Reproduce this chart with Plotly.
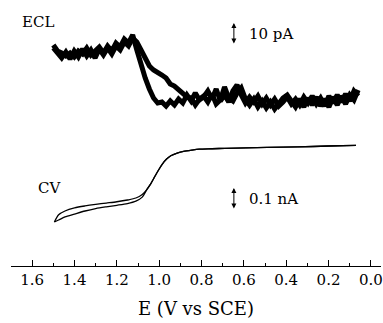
import numpy as np
import plotly.graph_objects as go

# ---------------- data ----------------
# ECL potential sweep (V vs SCE), uniformly sampled from 1.50 V to 0.06 V
ecl_E = np.linspace(1.50, 0.06, 74)
# ECL intensity (a.u.; 22 a.u. = 10 pA), two sweeps
ecl_sweep1 = [55, 49, 47, 44, 47, 43, 49, 46, 52, 45,
              49, 53, 47, 54, 49, 57, 53, 61, 57, 65,
              50, 35, 22, 11, 2, -3, -2, -6, -1, -5,
              1, -3, 5, -1, 7, 0, 3, 9, 1, 11,
              -1, 5, -2, 9, 15, 5, -3, 3, -2, 4,
              -4, 2, -5, 1, -6, -2, 3, -4, 1, -5,
              3, -3, 4, -4, 2, -6, 4, -3, 5, -2,
              6, -1, 9, 4]
ecl_sweep2 = [52, 46, 42, 48, 41, 49, 43, 51, 44, 50,
              42, 51, 45, 52, 46, 54, 50, 58, 54, 62,
              58, 50, 43, 34, 30, 28, 25, 22, 16, 14,
              10, 6, 3, 2, -5, 1, 4, -2, 6, -4,
              0, 13, 2, -1, 7, 12, 1, -5, 1, -7,
              -1, -8, -2, -9, -4, 2, 5, -2, -7, 1,
              -7, 2, -5, 3, -6, 1, -7, 3, -5, 4,
              -4, 5, 0, 10]
ECL_10PA = 22  # a.u. corresponding to 10 pA

# CV (current in nA)
cv_E = [0.07, 0.20, 0.345, 0.49, 0.59, 0.69, 0.75, 0.81, 0.845, 0.885,
        0.915, 0.945, 0.965, 0.985, 1.005, 1.025, 1.04, 1.06, 1.08, 1.11,
        1.15, 1.20, 1.25, 1.30, 1.35, 1.40, 1.445, 1.475, 1.495]
cv_forward = [0.007, 0.0045, 0.0, -0.002, -0.004, -0.006, -0.008, -0.010, -0.014, -0.020,
              -0.028, -0.040, -0.055, -0.078, -0.108, -0.142, -0.168, -0.196, -0.228, -0.246,
              -0.257, -0.265, -0.272, -0.280, -0.291, -0.305, -0.318, -0.332, -0.341]
cv_reverse = [0.007, 0.0045, 0.0, -0.002, -0.004, -0.006, -0.008, -0.010, -0.014, -0.020,
              -0.028, -0.040, -0.055, -0.078, -0.108, -0.142, -0.168, -0.196, -0.216, -0.232,
              -0.241, -0.249, -0.255, -0.261, -0.268, -0.277, -0.291, -0.308, -0.341]
CV_01NA = 0.1

x_ticks = [1.6, 1.4, 1.2, 1.0, 0.8, 0.6, 0.4, 0.2, 0.0]
x_tick_labels = ["1.6", "1.4", "1.2", "1.0", "0.8", "0.6", "0.4", "0.2", "0.0"]
x_minor = [1.7, 1.5, 1.3, 1.1, 0.9, 0.7, 0.5, 0.3, 0.1]

# ---------------- figure ----------------
FONT = "DejaVu Serif"
fig = go.Figure()
for ys in (ecl_sweep1, ecl_sweep2):
    fig.add_trace(go.Scatter(x=ecl_E, y=ys, mode="lines", yaxis="y",
                             line=dict(color="black", width=5), showlegend=False))
for ys in (cv_forward, cv_reverse):
    fig.add_trace(go.Scatter(x=cv_E, y=ys, mode="lines", yaxis="y2",
                             line=dict(color="black", width=1.3, shape="spline", smoothing=0.8),
                             showlegend=False))

ann = []
# labels
ann.append(dict(x=1.573, y=78, xref="x", yref="y", text="ECL", showarrow=False,
                font=dict(family=FONT, size=15, color="black")))
ann.append(dict(x=1.52, y=-0.186, xref="x", yref="y2", text="CV", showarrow=False,
                font=dict(family=FONT, size=15, color="black")))
# scale bars
ecl_bar_top = 77
ann.append(dict(x=0.647, y=ecl_bar_top, ax=0.647, ay=ecl_bar_top - ECL_10PA,
                xref="x", yref="y", axref="x", ayref="y", text="", showarrow=True,
                arrowhead=2, arrowside="end+start", arrowsize=1, arrowwidth=1, arrowcolor="black"))
ann.append(dict(x=0.586, y=ecl_bar_top - ECL_10PA / 2, xref="x", yref="y", text="10 pA",
                showarrow=False, xanchor="left",
                font=dict(family=FONT, size=15, color="black")))
cv_bar_top = -0.186
ann.append(dict(x=0.647, y=cv_bar_top, ax=0.647, ay=cv_bar_top - CV_01NA,
                xref="x", yref="y2", axref="x", ayref="y2", text="", showarrow=True,
                arrowhead=2, arrowside="end+start", arrowsize=1, arrowwidth=1, arrowcolor="black"))
ann.append(dict(x=0.586, y=cv_bar_top - CV_01NA / 2, xref="x", yref="y2", text="0.1 nA",
                showarrow=False, xanchor="left",
                font=dict(family=FONT, size=15, color="black")))

fig.update_layout(
    width=383, height=323,
    margin=dict(l=11, r=0, t=0, b=57),
    paper_bgcolor="white", plot_bgcolor="white",
    annotations=ann,
    xaxis=dict(range=[1.700, -0.048], tickvals=x_ticks, ticktext=x_tick_labels,
               ticks="inside", ticklen=6, tickwidth=1, tickcolor="black",
               showline=True, linecolor="black", linewidth=1.2,
               showgrid=False, zeroline=False, ticklabeloverflow="allow",
               minor=dict(tickvals=x_minor, ticks="inside", ticklen=3, tickwidth=1,
                          tickcolor="black", showgrid=False),
               tickfont=dict(family=FONT, size=15, color="black"),
               title=dict(text="E (V vs SCE)", standoff=14,
                          font=dict(family=FONT, size=18, color="black"))),
    yaxis=dict(range=[-166, 100], visible=False, showgrid=False, zeroline=False),
    yaxis2=dict(range=[-0.541, 0.668], overlaying="y", visible=False,
                showgrid=False, zeroline=False),
)

fig.write_html("out.html")
